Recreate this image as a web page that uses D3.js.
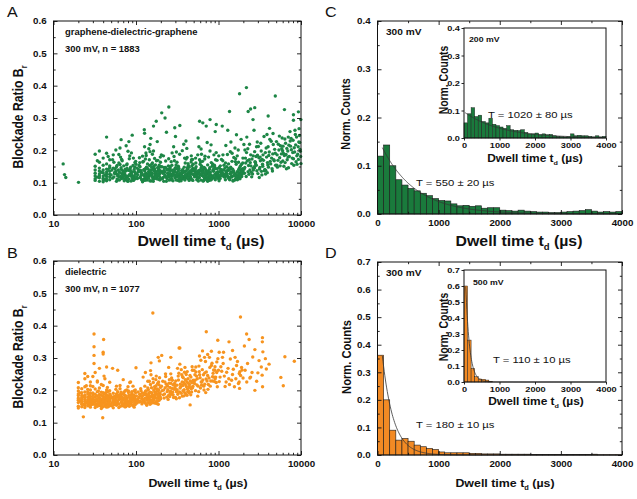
<!DOCTYPE html>
<html>
<head>
<meta charset="utf-8">
<script src="https://cdn.jsdelivr.net/npm/d3@7"></script>
<style>
  body { margin: 0; background: #fff; }
  svg { display: block; }
  text { font-family: "Liberation Sans", Arial, sans-serif; }
</style>
</head>
<body>
<svg id="fig" width="637" height="499"></svg>
<script>
// ---------- data ----------
// A: graphene-dielectric-graphene, [dwell time (us), blockade ratio]
const pointsA = [
  [13.1,.158],[13.6,.125],[14.1,.116],[20.1,.101],[44,.241],[66,.233],[90,.247],[126,.264],[163,.275],[176,.29],
  [205,.316],[250,.334],[225,.30],[295,.27],[340,.277],[590,.29],[645,.285],[710,.275],[790,.295],[940,.28],
  [1110,.275],[1360,.32],[1800,.375],[2180,.394],[2290,.32],[2450,.328],[2750,.332],[2620,.295],[4880,.368],[4000,.306],
  [6300,.326],[8100,.31],[9300,.319],[9950,.295],[8100,.293],
  [32,.112],[36,.127],[44,.106],[40,.139],[32,.151],[48,.118],[36,.104],[40,.121],[44,.133],[32,.129],[48,.147],[40,.108],[36,.163],
  [44,.119],[32,.107],[40,.176],[48,.126],[36,.115],[44,.142],[40,.131],[32,.188],[36,.136],[44,.158],[48,.109],[40,.114],[36,.145],
  [32,.121],[44,.191],[48,.135],[40,.154],[36,.198],[44,.126],[32,.139],[48,.171],[40,.103],[36,.121],[44,.112],[48,.152],[34,.117],
  [38,.132],[42,.124],[46,.141],[34,.168],[46,.181],[42,.109],
  [52,.114],[87,.131],[63,.108],[71,.152],[95,.119],[58,.127],[79,.105],[66,.141],[54,.163],[91,.112],[75,.136],[60,.121],[83,.174],
  [68,.115],[56,.133],[97,.148],[73,.109],[62,.187],[89,.124],[51,.139],[77,.117],[64,.156],[93,.107],[70,.129],[57,.201],[85,.142],
  [67,.113],[99,.166],[61,.125],[80,.104],[53,.145],[74,.123],[88,.192],[59,.111],[69,.137],[94,.118],[78,.158],[55,.128],[82,.111],
  [65,.179],[96,.134],[72,.106],[58,.149],[86,.121],[63,.132],[76,.214],[90,.116],[50,.124],[68,.168],[81,.138],[60,.109],[92,.153],
  [73,.127],[54,.118],[84,.183],[66,.146],[98,.112],[71,.122],[57,.135],[87,.105],[62,.161],[79,.119],[95,.141],[67,.128],[52,.171],
  [75,.113],[89,.134],[64,.207],[83,.125],[56,.143],[93,.176],[70,.116],[61,.139],[77,.155],[98,.126],[58,.104],[86,.148],[69,.121],
  [80,.197],[55,.131],[91,.114],[74,.142],[65,.119],[97,.162],[59,.153],[82,.227],[72,.133],[63,.117],[88,.128],[53,.186],[78,.144],
  [94,.109],[67,.172],[85,.137],[76,.111],
  [104,.113],[157,.128],[122,.107],[183,.146],[139,.119],[111,.162],[171,.124],[128,.137],[196,.109],[146,.153],[117,.131],[164,.116],
  [133,.184],[188,.127],[107,.141],[152,.105],[125,.122],[177,.168],[142,.134],[113,.115],[199,.149],[160,.112],[130,.173],[186,.138],
  [119,.126],[148,.196],[102,.118],[168,.143],[136,.108],[192,.125],[155,.157],[115,.132],[179,.114],[127,.211],[144,.121],[108,.136],
  [173,.129],[134,.148],[195,.117],[162,.104],[121,.164],[150,.139],[185,.122],[110,.177],[140,.126],[166,.152],[124,.111],[190,.135],
  [158,.188],[101,.128],[176,.119],[131,.144],[147,.106],[198,.163],[116,.123],[170,.137],[137,.115],[181,.227],[154,.131],[112,.149],
  [163,.118],[126,.141],[193,.109],[145,.171],[105,.125],[175,.133],[138,.158],[120,.103],[187,.146],[153,.124],[132,.192],[167,.112],
  [114,.138],[149,.129],[197,.179],[129,.116],[161,.147],[106,.134],[180,.121],[143,.205],[118,.127],[172,.155],[135,.11],[189,.142],
  [156,.119],[123,.166],[165,.136],[103,.145],[178,.113],[141,.126],[194,.131],[151,.237],[109,.153],[169,.128],[128,.107],[184,.169],
  [159,.141],[137,.118],[120,.182],[174,.12],[146,.135],[191,.154],[112,.117],[163,.198],[131,.129],[182,.111],[155,.148],[124,.139],
  [176,.132],[142,.114],[100,.157],[168,.175],[134,.123],[197,.137],[117,.109],[158,.161],[186,.125],[139,.143],[127,.253],[171,.116],
  [148,.218],
  [214,.116],[367,.131],[258,.109],[441,.148],[302,.122],[229,.167],[398,.114],[276,.138],[483,.127],[335,.105],[247,.152],[419,.119],
  [289,.181],[356,.125],[207,.134],[462,.111],[318,.143],[265,.121],[388,.176],[237,.113],[494,.139],[341,.128],[281,.106],[427,.159],
  [223,.124],[373,.117],[309,.195],[452,.133],[254,.141],[392,.108],[219,.147],[329,.121],[471,.171],[296,.115],[244,.129],[408,.137],
  [362,.112],[203,.186],[437,.126],[272,.154],[348,.118],[488,.144],[233,.104],[381,.132],[314,.163],[459,.117],[261,.128],[413,.206],
  [285,.139],[350,.113],[226,.121],[476,.152],[323,.107],[399,.135],[249,.174],[445,.123],[304,.146],[371,.119],[211,.129],[430,.112],
  [292,.168],[357,.137],[268,.109],[497,.125],[338,.188],[240,.142],[421,.116],[311,.131],[384,.148],[217,.104],[466,.164],[278,.122],
  [344,.127],[403,.229],[256,.136],[448,.114],[326,.151],[230,.118],[375,.133],[489,.107],[299,.141],[416,.178],[263,.126],[359,.115],
  [206,.149],[434,.131],[320,.121],[395,.161],[251,.108],[479,.138],[287,.124],[364,.199],[222,.132],[454,.119],[332,.144],[270,.113],
  [410,.127],[306,.155],[236,.139],[386,.111],[468,.183],[283,.129],[352,.106],[424,.142],[246,.122],[377,.135],[316,.117],[492,.157],
  [260,.145],[439,.124],[293,.134],[209,.112],[405,.173],[346,.128],[274,.192],[456,.116],[327,.136],[228,.147],[390,.121],[481,.109],
  [301,.243],[369,.141],[253,.118],[431,.153],[312,.125],[218,.138],[463,.131],[286,.211],[353,.117],[243,.129],[418,.146],[337,.112],
  [474,.139],[267,.165],[397,.124],[234,.256],[448,.136],[307,.108],[379,.219],[257,.149],[426,.115],[321,.128],[485,.172],[279,.137],
  [360,.121],[215,.183],[441,.107],[298,.145],
  [518,.121],[743,.136],[612,.108],[887,.152],[556,.117],[681,.173],[934,.125],[597,.139],[802,.112],[531,.161],[715,.128],[649,.105],
  [968,.143],[574,.132],[826,.119],[622,.188],[759,.114],[503,.137],[906,.126],[668,.147],[545,.109],[789,.198],[631,.123],[981,.134],
  [586,.116],[847,.158],[697,.121],[525,.144],[768,.107],[641,.131],[922,.171],[563,.127],[734,.112],[867,.141],[605,.165],[512,.118],
  [954,.129],[703,.135],[579,.211],[811,.124],[659,.106],[892,.154],[538,.133],[780,.119],[617,.146],[995,.113],[686,.182],[552,.128],
  [855,.138],[724,.117],[592,.125],[938,.193],[508,.141],[672,.111],[818,.162],[636,.122],[751,.134],[570,.105],[902,.148],[709,.127],
  [528,.176],[874,.115],[645,.139],[986,.121],[599,.157],[795,.132],[542,.118],[729,.224],[664,.143],[915,.109],[581,.128],[838,.151],
  [691,.114],[517,.135],[960,.169],[626,.123],[774,.141],[556,.112],[880,.186],[718,.126],[608,.137],[947,.117],[535,.149],[807,.108],
  [677,.128],[566,.238],[861,.121],[739,.155],[653,.133],[927,.116],[589,.171],[760,.124],[522,.139],[896,.142],[700,.118],[615,.204],
  [974,.129],[548,.122],[831,.111],[685,.145],[758,.179],[601,.127],[913,.258],[657,.119],[785,.146],[533,.131],[869,.135],[711,.11],
  [624,.152],[989,.124],[571,.137],[813,.217],[739,.104],[640,.166],[943,.131],[514,.126],[852,.119],[694,.141],[560,.186],[776,.128],
  [1035,.118],[1486,.142],[1212,.109],[1763,.131],[1127,.168],[1654,.124],[1341,.113],[1895,.156],[1078,.135],[1547,.121],[1283,.187],
  [1702,.116],[1159,.139],[1938,.127],[1405,.148],[1016,.106],[1612,.174],[1246,.129],[1821,.112],[1373,.143],[1098,.124],[1735,.201],
  [1519,.133],[1188,.119],[1967,.161],[1306,.138],[1576,.108],[1052,.152],[1859,.126],[1437,.117],[1227,.215],[1680,.134],[1141,.123],
  [1792,.145],[1358,.111],[1008,.183],[1593,.128],[1269,.137],[1912,.119],[1458,.166],[1115,.131],[1719,.114],[1324,.158],[1631,.121],
  [1064,.141],[1842,.129],[1391,.196],[1174,.125],[1985,.136],[1503,.107],[1257,.149],[1776,.122],[1086,.172],[1419,.133],[1663,.117],
  [1203,.127],[1880,.234],[1346,.139],[1568,.125],[1047,.113],[1749,.163],[1290,.119],[1473,.142],[1133,.186],[1922,.131],[1614,.112],
  [1377,.128],[1021,.147],[1806,.124],[1534,.178],[1239,.135],[1696,.109],[1164,.154],[1443,.121],[1954,.143],[1313,.115],[1584,.207],
  [1072,.126],[1868,.138],[1396,.118],[1215,.161],[1728,.132],[1499,.105],[1107,.139],[1651,.248],[1271,.124],[1836,.151],[1424,.129],
  [1184,.117],[1977,.176],[1333,.144],[1559,.123],[1041,.134],[1784,.114],[1462,.191],[1256,.128],[1639,.157],[1121,.121],[1901,.136],
  [1368,.109],[1603,.165],[1092,.127],[1757,.141],[1295,.262],[1519,.137],[1196,.145],[1852,.118],[1414,.226],[1059,.122],[1688,.183],
  [2046,.142],[3215,.168],[2587,.127],[4123,.195],[2314,.153],[3741,.138],[2893,.211],[4679,.171],[2168,.119],[3468,.186],[2735,.146],
  [4352,.228],[2429,.162],[3902,.131],[3087,.177],[2091,.201],[4918,.154],[2651,.139],[3562,.243],[2239,.168],[3356,.124],[4547,.189],
  [2812,.158],[2118,.176],[3993,.211],[2503,.132],[3174,.147],[4238,.166],[2376,.219],[3648,.141],[2967,.185],[4796,.203],[2281,.134],
  [3419,.157],[2694,.262],[4031,.148],[2545,.173],[3825,.179],[2063,.129],[3293,.198],[4462,.143],[2768,.165],[3121,.116],[2204,.241],
  [3697,.193],[2919,.137],[4611,.218],[2466,.152],[3511,.169],[2342,.126],[4185,.234],[2853,.181],[3957,.155],[2617,.145],[3252,.222],
  [2137,.161],[4402,.176],[3004,.128],[3784,.207],[2401,.139],[4875,.191],[2712,.149],[3380,.172],[2264,.205],[4289,.158],[3598,.137],
  [2950,.226],[2083,.147],[4068,.184],[2524,.118],[3869,.249],[2799,.163],[3142,.142],[4736,.168],[2186,.193],[3440,.151],[2633,.183],
  [4506,.136],[3043,.212],[2360,.171],[3719,.127],[2876,.154],[4157,.268],[2457,.186],[3316,.135],[2032,.218],[3920,.162],[2744,.196],
  [4581,.252],[3200,.179],
  [5132,.186],[7468,.213],[6021,.167],[8834,.241],[5589,.152],[6917,.198],[9412,.226],[5310,.219],[8106,.174],[6374,.235],[7712,.159],
  [5847,.205],[9128,.188],[6655,.143],[8452,.262],[5041,.227],[7209,.181],[9738,.203],[6198,.151],[8620,.217],[5468,.244],[7936,.193],
  [6802,.171],[9560,.246],[5721,.163],[8287,.208],[6499,.222],[7053,.146],[9895,.181],[5982,.199],[7591,.237],[8963,.157],[6287,.184],
  [5254,.169],[8014,.231],[6734,.206],[9306,.172],[5633,.214],[7357,.258],[6110,.191],[8712,.165],[5397,.201],[7824,.176],[9637,.224],
  [6583,.187],[5096,.154],[8371,.195],[7126,.216],[9989,.159],[5905,.238],[6953,.179],[8539,.249],[5512,.177],[7645,.202],[9250,.211],
  [6419,.162],[5786,.189],[8195,.154],[7402,.229],[9473,.267],[6056,.213],[8897,.183],[5180,.148],[7011,.241],[9810,.197]
];

// B: dielectric only
const pointsB = [
  [160,.439],[1846,.427],[31,.374],[40.5,.357],[711,.381],[23,.118],[39.5,.115],[8300,.29],[6380,.304],[5700,.24],
  [6100,.214],[3410,.363],[3400,.35],[3450,.319],[3380,.247],[3420,.211],[2190,.374],[2350,.357],[2760,.326],[2760,.2],
  [2060,.337],[3800,.266],[1800,.206],[1780,.226],[340,.331],[980,.355],[1340,.35],[100,.27],
  [20,.151],[24,.172],[28,.163],[22,.184],[26,.158],[20,.176],[24,.147],[28,.191],[22,.166],[26,.203],[20,.162],[24,.185],[28,.154],
  [22,.171],[26,.179],[20,.198],[24,.211],[28,.172],[22,.149],[26,.166],[20,.184],[24,.159],[28,.226],[22,.193],[26,.152],[20,.169],
  [24,.236],[28,.181],[22,.161],[26,.189],[20,.145],[24,.195],[28,.158],[22,.178],[26,.171],[20,.208],[24,.166],[28,.201],[22,.157],
  [26,.243],[20,.173],[24,.178],[28,.167],[22,.205],[26,.162],[20,.189],[24,.153],[28,.148],[22,.174],[26,.196],[21,.167],[23,.181],
  [25,.163],[27,.175],[29,.158],[21,.192],[23,.156],[25,.214],[27,.186],[29,.171],[24,.252],[20,.224],[28,.214],
  [32,.164],[40,.181],[36,.153],[44,.176],[48,.167],[30,.192],[34,.158],[42,.171],[38,.185],[46,.149],[32,.204],[40,.162],[36,.178],
  [44,.156],[48,.189],[30,.171],[34,.183],[42,.152],[38,.166],[46,.197],[32,.147],[40,.215],[36,.187],[44,.168],[48,.158],[30,.157],
  [34,.229],[42,.191],[38,.172],[46,.163],[32,.179],[40,.149],[36,.164],[44,.201],[48,.176],[30,.186],[34,.167],[42,.165],[38,.151],
  [46,.182],[32,.188],[40,.173],[36,.207],[44,.185],[48,.152],[30,.163],[34,.174],[42,.236],[38,.194],[46,.169],[32,.156],[40,.193],
  [36,.169],[44,.148],[48,.199],[30,.212],[34,.151],[42,.178],[38,.161],[46,.174],[32,.171],[40,.167],[36,.158],[44,.194],[48,.171],
  [30,.178],[34,.196],[42,.159],[38,.218],[46,.158],[31,.169],[33,.183],[35,.162],[37,.175],[39,.157],[41,.188],[43,.166],[45,.179],
  [47,.161],[49,.184],[31,.283],[31,.335],[31,.308],[36,.268],[44,.272],[41,.244],[32,.255],[30,.243],[40,.318],[40,.312],[48,.225],
  [34,.226],[35,.198],[45,.209],[38,.144],
  [52,.163],[78,.176],[61,.158],[91,.184],[56,.171],[69,.152],[84,.167],[58,.189],[73,.161],[96,.178],[54,.156],[66,.181],[87,.159],
  [63,.172],[99,.193],[51,.176],[75,.149],[82,.185],[67,.164],[57,.203],[93,.171],[71,.157],[60,.168],[89,.179],[55,.182],[79,.153],
  [64,.176],[97,.162],[53,.169],[72,.195],[85,.174],[68,.155],[59,.161],[94,.186],[76,.168],[62,.147],[81,.198],[50,.158],[70,.173],
  [88,.163],[65,.187],[98,.156],[57,.178],[74,.166],[83,.151],[61,.183],[92,.172],[53,.191],[77,.159],[66,.164],[90,.177],[58,.154],
  [71,.188],[86,.169],[63,.176],[95,.148],[55,.167],[80,.211],[68,.179],[51,.152],[74,.184],[97,.175],[60,.196],[84,.157],[69,.171],
  [56,.161],[89,.192],[73,.149],[64,.205],[100,.168],[52,.177],[79,.166],[91,.153],[62,.158],[76,.181],[87,.186],[67,.162],[54,.174],
  [95,.199],[71,.176],[59,.183],[82,.162],[65,.151],[93,.171],[78,.157],[57,.169],[86,.226],[70,.189],[61,.178],[99,.164],[75,.172],
  [53,.146],[90,.181],[66,.194],[80,.159],[58,.213],[94,.167],[72,.155],[63,.186],[88,.174],[55,.159],[77,.201],[68,.168],[96,.158],
  [50,.181],[83,.179],[60,.262],[52,.268],[70,.233],[84,.224],[64,.215],[92,.213],[74,.199],[81,.193],[98,.201],[67,.177],[85,.17],
  [59,.188],[77,.171],[89,.196],
  [104,.172],[156,.193],[123,.168],[181,.204],[138,.179],[112,.186],[167,.161],[131,.197],[194,.182],[147,.171],[118,.158],[175,.214],
  [142,.186],[108,.177],[162,.224],[127,.163],[189,.191],[151,.169],[115,.199],[172,.178],[135,.154],[198,.209],[158,.183],[121,.172],
  [184,.167],[145,.228],[110,.164],[169,.196],[133,.188],[192,.176],[154,.208],[119,.181],[178,.189],[140,.162],[101,.183],[165,.171],
  [128,.213],[186,.157],[149,.194],[113,.166],[174,.233],[137,.175],[196,.188],[160,.166],[125,.191],[182,.198],[144,.173],[106,.195],
  [170,.185],[131,.159],[190,.217],[153,.181],[117,.174],[176,.164],[141,.202],[199,.174],[163,.178],[122,.241],[187,.183],[148,.157],
  [111,.188],[171,.206],[136,.169],[193,.239],[157,.187],[120,.163],[180,.176],[143,.192],[103,.161],[166,.184],[129,.176],[188,.201],
  [150,.218],[116,.183],[177,.159],[139,.207],[195,.193],[159,.172],[124,.186],[183,.221],[146,.179],[107,.168],[168,.211],[132,.198],
  [191,.169],[155,.161],[114,.205],[173,.191],[134,.185],[197,.178],[161,.236],[126,.171],[185,.186],[152,.248],[109,.179],[179,.168],
  [142,.184],[164,.201],[130,.255],[188,.226],[147,.165],[119,.192],[160,.184],[176,.244],[139,.228],[150,.261],[192,.291],[186,.302],
  [205,.308],[152,.285],
  [214,.186],[348,.211],[262,.197],[427,.236],[301,.178],[233,.219],[389,.193],[276,.231],[468,.205],[321,.188],[245,.172],[412,.227],
  [289,.203],[364,.182],[207,.199],[451,.246],[313,.216],[256,.181],[378,.224],[226,.208],[489,.213],[337,.195],[270,.238],[403,.187],
  [219,.176],[359,.248],[296,.209],[441,.192],[251,.222],[384,.202],[204,.213],[327,.232],[476,.224],[282,.186],[418,.258],[239,.196],
  [369,.215],[308,.174],[458,.208],[264,.251],[395,.219],[222,.189],[342,.207],[482,.262],[293,.221],[433,.198],[248,.184],[374,.239],
  [316,.201],[211,.228],[461,.186],[278,.194],[407,.212],[331,.253],[258,.209],[494,.231],[354,.191],[229,.243],[421,.204],[303,.229],
  [382,.183],[241,.213],[446,.218],[285,.178],[363,.226],[216,.201],[472,.195],[325,.244],[267,.188],[398,.233],[236,.179],[354,.264],
  [310,.196],[437,.211],[254,.233],[485,.208],[345,.219],[273,.206],[415,.185],[224,.226],[392,.271],[298,.214],[463,.241],[260,.191],
  [371,.199],[319,.268],[430,.222],[243,.202],[406,.249],[281,.217],[499,.228],[336,.177],[228,.251],[456,.229],[305,.203],[387,.256],
  [265,.222],[423,.196],[340,.281],[479,.273],[249,.271],[366,.242],[453,.155],[333,.331],[264,.302],
  [512,.221],[738,.246],[604,.207],[873,.263],[553,.236],[681,.219],[925,.241],[579,.275],[806,.229],[527,.199],[712,.257],[645,.232],
  [968,.211],[590,.248],[834,.284],[623,.216],[767,.238],[505,.262],[896,.227],[668,.201],[541,.244],[785,.271],[617,.226],[951,.255],
  [566,.213],[848,.242],[695,.289],[519,.231],[753,.218],[636,.264],[912,.236],[575,.196],[726,.229],[860,.253],[598,.239],[983,.298],
  [657,.248],[532,.257],[794,.213],[707,.235],[611,.293],[939,.224],[560,.182],[821,.277],[683,.254],[546,.217],[886,.241],[745,.203],
  [628,.226],[999,.262],[585,.258],[776,.302],[662,.213],[907,.273],[518,.248],[850,.229],[700,.193],[820,.321],[905,.262],[640,.322],
  [588,.306],[739,.311],[954,.288],[531,.272],[677,.302],
  [1045,.241],[1512,.265],[1237,.226],[1786,.252],[1139,.283],[1623,.236],[1358,.218],[1903,.271],[1094,.259],[1441,.231],[1697,.289],
  [1176,.244],[1984,.238],[1306,.268],[1559,.211],[1021,.227],[1852,.246],[1392,.297],[1256,.256],[1745,.221],[1117,.302],[1478,.249],
  [1654,.277],[1203,.212],[1929,.263],[1332,.236],[1590,.302],[1068,.273],[1150,.318],[1480,.323],[1020,.318],[1820,.258],
  [2100,.262],[2250,.283],[2400,.238],[2550,.255],[2900,.228],[3100,.292],[3300,.272],[3700,.298],[4100,.281],[2200,.226],
  [2600,.303],[2450,.241],[3000,.254]
];

// histograms: normalized counts in 100 us bins starting at 0
const binWidth = 100;
const countsC300 = [0.12,0.143,0.10,0.071,0.06,0.053,0.048,0.043,0.038,0.032,0.028,0.027,0.021,0.017,0.018,0.016,0.017,0.012,0.013,0.013,
  0.008,0.007,0.006,0.008,0.006,0.005,0.004,0.004,0.003,0.003,0.004,0.005,0.006,0.007,0.009,0.006,0.004,0.005,0.004,0.005];
const countsC200 = [0.055,0.088,0.11,0.078,0.083,0.06,0.055,0.072,0.05,0.045,0.04,0.035,0.045,0.03,0.028,0.027,0.03,0.02,0.015,0.015,
  0.018,0.012,0.015,0.012,0.013,0.008,0.006,0.005,0.004,0.005,0.015,0.008,0.01,0.008,0.008,0.006,0.004,0.008,0.004,0.006];
const countsD300 = [0.362,0.2,0.09,0.054,0.06,0.05,0.036,0.03,0.024,0.02,0.011,0.008,0.008,0.008,0.008,0.006,0.006,0.004,0.004,0.004,
  0.003,0.003,0.003,0.003,0.003,0.002,0.002,0.002,0.002,0.002,0.002,0.002,0.002,0.002,0.002,0.003,0.001,0.001,0.001,0.001];
const countsD500 = [0.6,0.262,0.085,0.033,0.019,0.017,0.012,0.004];

// exponential fits: amplitude, time constant T (us), start of drawn curve
const fitC300 = { amp: 0.159, tau: 550, from: 80 };
const fitC200 = { amp: 0.095, tau: 1020, from: 30 };
const fitD300 = { amp: 0.56, tau: 180, from: 80 };
const fitD500 = { amp: 0.94, tau: 110, from: 50 };

// tick values
const logMajor = [10, 100, 1000, 10000];
const logMinor = [20,30,40,50,60,70,80,90,200,300,400,500,600,700,800,900,2000,3000,4000,5000,6000,7000,8000,9000];
const dwellMajor = [0, 1000, 2000, 3000, 4000];
const dwellMinor = [500, 1500, 2500, 3500];
const ratioMajor = [0, 0.1, 0.2, 0.3, 0.4, 0.5, 0.6];
const ratioMinor = [0.05, 0.15, 0.25, 0.35, 0.45, 0.55];
const countMajorC = [0, 0.1, 0.2, 0.3, 0.4];
const countMinorC = [0.05, 0.15, 0.25, 0.35];
const countMajorD = [0, 0.1, 0.2, 0.3, 0.4, 0.5, 0.6, 0.7];
const countMinorD = [0.05, 0.15, 0.25, 0.35, 0.45, 0.55, 0.65];

// ---------- drawing ----------
const SX = 1.15;              // the figure's text is a bit wider than tall
const INK = "#111";
const GREEN = "#1d8646", GREEN_BAR = "#1a7a3c";
const ORANGE = "#f7941f", ORANGE_BAR = "#f28a24";

const svg = d3.select("#fig");
svg.append("rect").attr("width", 637).attr("height", 499).attr("fill", "#fff");

function addText(x, y, parts, size, o = {}) {
  const t = svg.append("text")
    .attr("transform", `translate(${x},${y}) scale(${SX},1)` + (o.rotate ? " rotate(-90)" : ""))
    .attr("font-size", size)
    .attr("font-weight", o.weight || "bold")
    .attr("text-anchor", o.anchor || "start")
    .attr("fill", INK);
  let wasSub = false;
  (typeof parts === "string" ? [[parts]] : parts).forEach(([s, sub]) => {
    const ts = t.append("tspan").text(s);
    if (sub) ts.attr("font-size", size * 0.6).attr("dy", size * 0.3);
    else if (wasSub) ts.attr("dy", -size * 0.3);
    wasSub = !!sub;
  });
  return t;
}

const dwellTitle = [["Dwell time t"], ["d", true], [" (\u00b5s)"]];

function frame(box, x, y, o) {
  const g = svg.append("g").attr("color", INK);
  const L = o.tick, l = o.tick * 0.55;
  const s = o.inward ? -1 : 1;

  const styleAxis = (sel, size) => {
    sel.attr("font-size", null).attr("font-family", null);
    sel.select(".domain").remove();
    sel.selectAll("line").attr("stroke-width", 0.9);
    sel.selectAll("text")
      .attr("font-size", size).attr("font-weight", "bold").attr("fill", INK)
      .attr("transform", `scale(${SX},1)`);
  };

  g.append("g").attr("transform", `translate(0,${box.y1})`)
    .call(d3.axisBottom(x).tickValues(o.xMajor).tickSize(s * L).tickPadding(o.padX).tickFormat(o.xFmt))
    .call(a => styleAxis(a, o.font));
  g.append("g").attr("transform", `translate(0,${box.y1})`)
    .call(d3.axisBottom(x).tickValues(o.xMinor).tickSize(s * l).tickFormat(""))
    .call(a => styleAxis(a, o.font));
  g.append("g").attr("transform", `translate(${box.x0},0)`)
    .call(d3.axisLeft(y).tickValues(o.yMajor).tickSize(s * L).tickPadding(o.padY).tickFormat(d3.format(".1f")))
    .call(a => styleAxis(a, o.font));
  g.append("g").attr("transform", `translate(${box.x0},0)`)
    .call(d3.axisLeft(y).tickValues(o.yMinor).tickSize(s * l).tickFormat(""))
    .call(a => styleAxis(a, o.font));

  if (o.mirror) {
    g.append("g").attr("transform", `translate(0,${box.y0})`)
      .call(d3.axisTop(x).tickValues(o.xMajor).tickSize(-L).tickFormat(""))
      .call(a => styleAxis(a, o.font));
    g.append("g").attr("transform", `translate(0,${box.y0})`)
      .call(d3.axisTop(x).tickValues(o.xMinor).tickSize(-l).tickFormat(""))
      .call(a => styleAxis(a, o.font));
    g.append("g").attr("transform", `translate(${box.x1},0)`)
      .call(d3.axisRight(y).tickValues(o.yMajor).tickSize(-L).tickFormat(""))
      .call(a => styleAxis(a, o.font));
    g.append("g").attr("transform", `translate(${box.x1},0)`)
      .call(d3.axisRight(y).tickValues(o.yMinor).tickSize(-l).tickFormat(""))
      .call(a => styleAxis(a, o.font));
  }

  g.append("rect")
    .attr("x", box.x0).attr("y", box.y0)
    .attr("width", box.x1 - box.x0).attr("height", box.y1 - box.y0)
    .attr("fill", "none").attr("stroke", INK).attr("stroke-width", 1);
}

function scatterPanel(box, points, color) {
  const x = d3.scaleLog().domain([10, 10000]).range([box.x0, box.x1]);
  const y = d3.scaleLinear().domain([0, 0.6]).range([box.y1, box.y0]);
  svg.append("g").selectAll("circle").data(points).join("circle")
    .attr("cx", d => x(d[0])).attr("cy", d => y(d[1]))
    .attr("r", 1.7).attr("fill", color);
  frame(box, x, y, {
    xMajor: logMajor, xMinor: logMinor, xFmt: d3.format("d"),
    yMajor: ratioMajor, yMinor: ratioMinor,
    tick: 4, inward: true, mirror: true, padX: 6, padY: 6, font: 8.5
  });
}

function histPanel(box, counts, yMax, majors, minors, fill, fit, o) {
  const x = d3.scaleLinear().domain([0, 4000]).range([box.x0, box.x1]);
  const y = d3.scaleLinear().domain([0, yMax]).range([box.y1, box.y0]);
  if (o.inset) {
    svg.append("rect").attr("x", box.x0).attr("y", box.y0)
      .attr("width", box.x1 - box.x0).attr("height", box.y1 - box.y0).attr("fill", "#fff");
  }
  svg.append("g").selectAll("rect").data(counts).join("rect")
    .attr("x", (d, i) => x(i * binWidth))
    .attr("width", (d, i) => x((i + 1) * binWidth) - x(i * binWidth))
    .attr("y", d => y(d))
    .attr("height", d => y(0) - y(d))
    .attr("fill", fill).attr("stroke", "#1a1a1a").attr("stroke-width", o.inset ? 0.45 : 0.6);

  const ts = d3.range(fit.from, 4001, 10);
  svg.append("path")
    .datum(ts)
    .attr("d", d3.line().x(t => x(t)).y(t => y(fit.amp * Math.exp(-t / fit.tau))))
    .attr("fill", "none").attr("stroke", "#333").attr("stroke-width", 0.8);

  frame(box, x, y, {
    xMajor: dwellMajor, xMinor: o.inset ? [] : dwellMinor, xFmt: d3.format("d"),
    yMajor: majors, yMinor: o.inset ? [] : minors,
    tick: o.inset ? 2.5 : 4, inward: !o.inset, mirror: !o.inset,
    padX: o.inset ? 1.5 : 6, padY: o.inset ? 1 : 6, font: o.inset ? 8 : 8.5
  });
}

// panel boxes
const boxA = { x0: 53.5, x1: 301, y0: 21, y1: 215 };
const boxB = { x0: 53.5, x1: 301, y0: 261, y1: 455 };
const boxC = { x0: 377.5, x1: 622, y0: 21, y1: 214 };
const boxD = { x0: 377.5, x1: 622, y0: 262, y1: 455 };
const boxCi = { x0: 464, x1: 606, y0: 28, y1: 138 };
const boxDi = { x0: 464, x1: 606, y0: 270, y1: 382 };

// A
scatterPanel(boxA, pointsA, GREEN);
addText(7, 17, "A", 14, { weight: "normal" });
addText(23, 117, [["Blockade Ratio B"], ["r", true]], 12.2, { rotate: true, anchor: "middle" });
addText(201, 246, dwellTitle, 13.8, { anchor: "middle" });
addText(65, 35, "graphene-dielectric-graphene", 8.2);
addText(65, 52, "300 mV, n = 1883", 8.2);

// B
scatterPanel(boxB, pointsB, ORANGE);
addText(7, 258, "B", 14, { weight: "normal" });
addText(23, 357, [["Blockade Ratio B"], ["r", true]], 12.2, { rotate: true, anchor: "middle" });
addText(198, 487, dwellTitle, 10.8, { anchor: "middle" });
addText(65, 275, "dielectric", 8.2);
addText(65, 292, "300 mV, n = 1077", 8.2);

// C
histPanel(boxC, countsC300, 0.4, countMajorC, countMinorC, GREEN_BAR, fitC300, {});
histPanel(boxCi, countsC200, 0.4, countMajorC, countMinorC, GREEN_BAR, fitC200, { inset: true });
addText(325, 17, "C", 14, { weight: "normal" });
addText(350, 114, "Norm. Counts", 10.8, { rotate: true, anchor: "middle" });
addText(519, 246, dwellTitle, 13.8, { anchor: "middle" });
addText(386, 35, "300 mV", 8.8);
addText(448, 80, "Norm. Counts", 10.4, { rotate: true, anchor: "middle" });
addText(535, 162, dwellTitle, 10.4, { anchor: "middle" });
addText(469, 42, "200 mV", 7.6);
addText(416, 186, "T = 550 \u00b1 20 \u00b5s", 9.8, { weight: "normal" });
addText(488, 118, "T = 1020 \u00b1 80 \u00b5s", 9.8, { weight: "normal" });

// D
histPanel(boxD, countsD300, 0.7, countMajorD, countMinorD, ORANGE_BAR, fitD300, {});
histPanel(boxDi, countsD500, 0.7, countMajorD, countMinorD, ORANGE_BAR, fitD500, { inset: true });
addText(325, 258, "D", 14, { weight: "normal" });
addText(351, 357, "Norm. Counts", 11.2, { rotate: true, anchor: "middle" });
addText(505, 487, dwellTitle, 10.8, { anchor: "middle" });
addText(386, 276, "300 mV", 8.8);
addText(448, 327, "Norm. Counts", 10.4, { rotate: true, anchor: "middle" });
addText(536, 405, dwellTitle, 10.4, { anchor: "middle" });
addText(473, 285, "500 mV", 7.6);
addText(416, 428, "T = 180 \u00b1 10 \u00b5s", 9.8, { weight: "normal" });
addText(493, 363, "T = 110 \u00b1 10 \u00b5s", 9.8, { weight: "normal" });
</script>
</body>
</html>
